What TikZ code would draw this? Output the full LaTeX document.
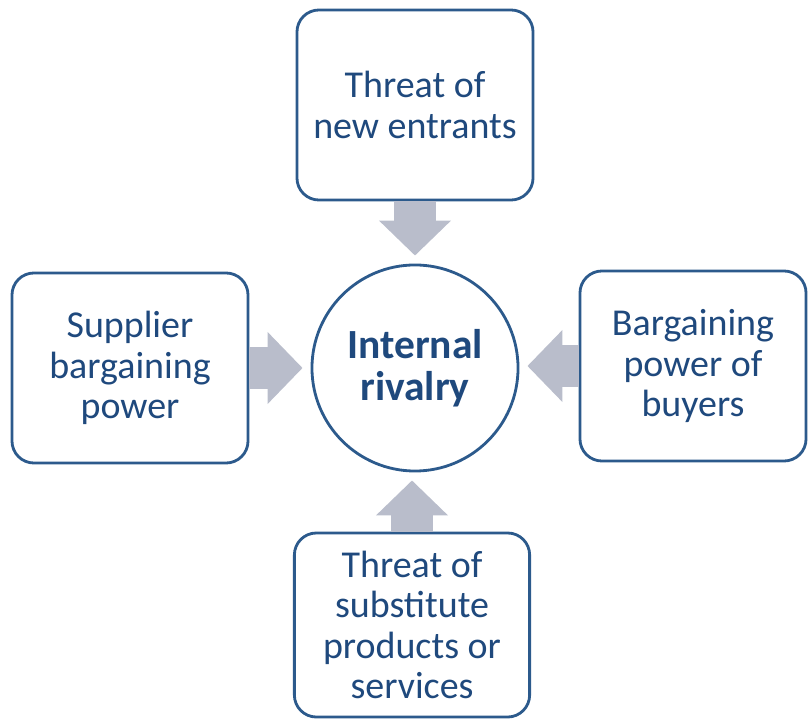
\documentclass[tikz,border=0pt]{standalone}
\usepackage{fontspec}
\setmainfont{Carlito}
\usepackage{tikz}
\usetikzlibrary{arrows.meta}

\definecolor{rimblue}{RGB}{44,90,140}
\definecolor{textblue}{RGB}{31,73,125}
\definecolor{forcegrey}{RGB}{185,189,203}

\tikzset{
    forcebox/.style={draw=rimblue, line width=2pt, rounded corners=0.55cm,
        fill=white, text=textblue, align=center,
        font=\fontsize{27}{28.6}\selectfont},
    force/.style={draw=forcegrey, line width=1.05cm,
        -{Triangle[width=1.75cm,length=0.875cm]}, shorten >=0.2cm}
}

\begin{document}
\begin{tikzpicture}[x=0.025cm,y=-0.025cm]

\useasboundingbox (0,0) rectangle (808,720);

\node [draw=rimblue, line width=2pt, circle, minimum size=5.15cm,
       text=textblue, align=center,
       font=\bfseries\fontsize{29.5}{29.8}\selectfont] (rivalry) at (415,368) {Internal\\rivalry};

\node [forcebox, minimum width=5.9cm, minimum height=4.75cm] (entrants) at (415,105) {Threat of\\new entrants};
\node [forcebox, minimum width=5.9cm, minimum height=4.75cm] (supplier) at (130,368) {Supplier\\bargaining\\power};
\node [forcebox, minimum width=5.65cm, minimum height=4.75cm] (buyers) at (693,366) {Bargaining\\power of\\buyers};
\node [forcebox, minimum width=5.88cm, minimum height=4.6cm] (substitutes) at (412,625) {Threat of\\substitute\\products or\\services};

% the four forces push on the rivalry
\draw [force] (entrants.south) -- (rivalry.north);
\draw [force] (supplier.east) -- (rivalry.west);
\draw [force] (buyers.west) -- (rivalry.east |- buyers.west);
\draw [force] (substitutes.north) -- (substitutes.north |- rivalry.south);

\end{tikzpicture}
\end{document}
